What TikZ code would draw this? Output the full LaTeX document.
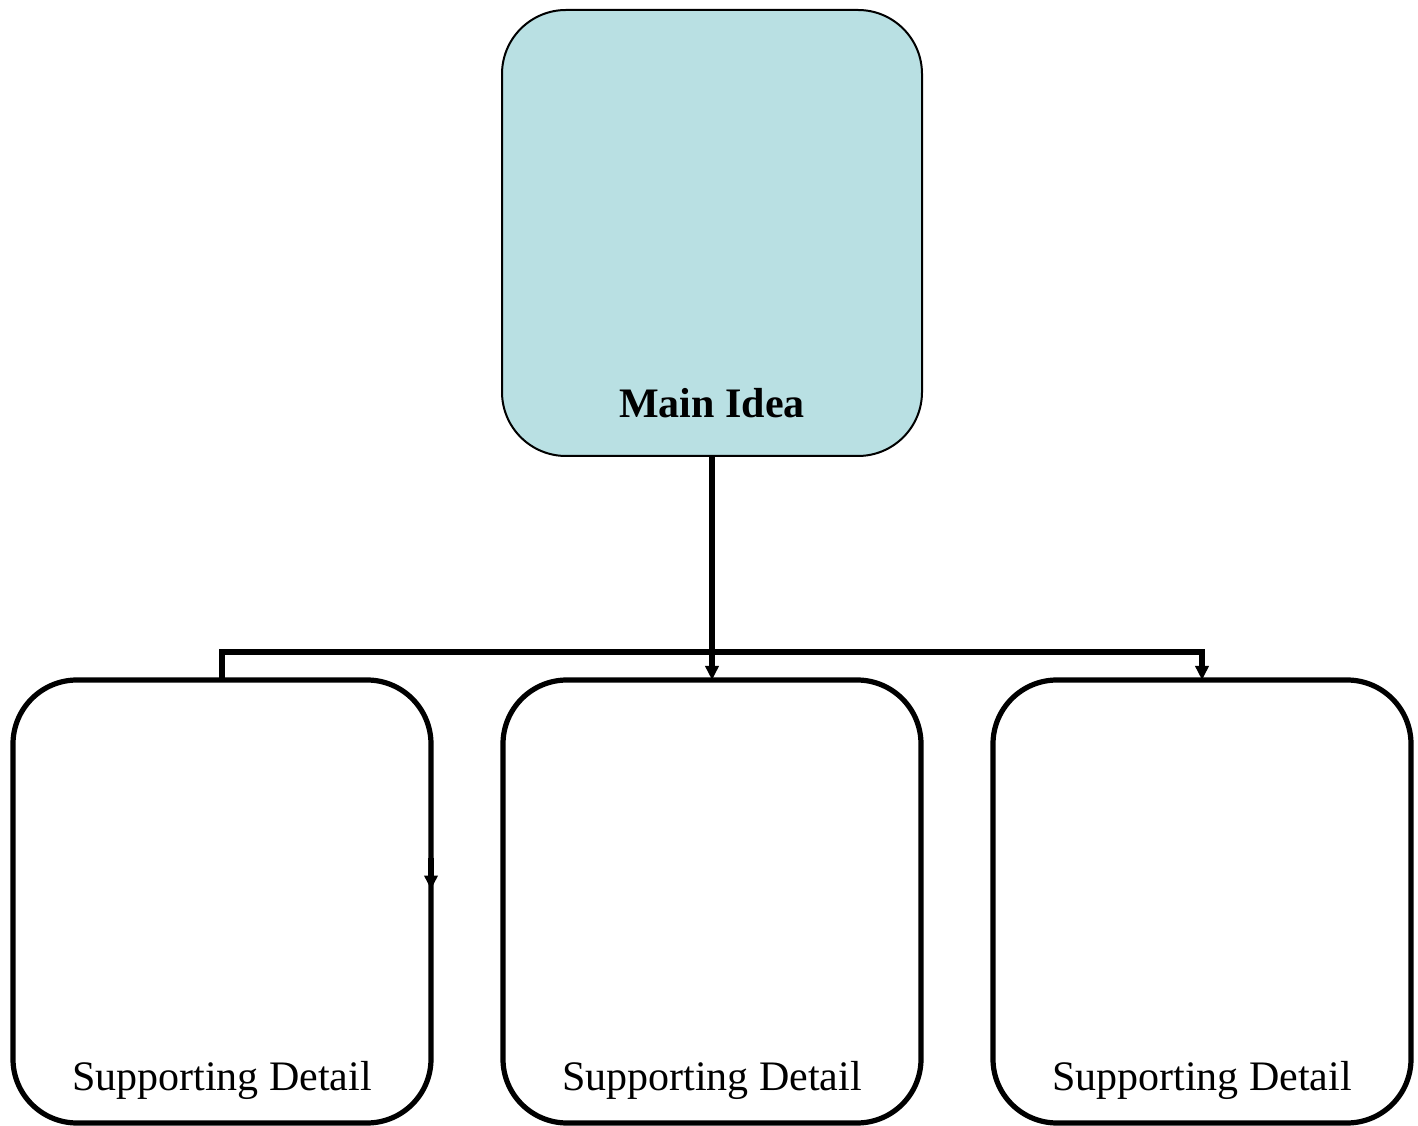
\documentclass[tikz,border=0pt]{standalone}
\usepackage{fontspec}
\setmainfont{Liberation Serif}
\usepackage{xcolor}
\usepackage{tikz}
\usetikzlibrary{positioning,calc,arrows.meta}

\definecolor{ideacyan}{RGB}{185,224,227}

\begin{document}
\begin{tikzpicture}[x=1pt, y=1pt,
    ideabox/.style={draw, line width=1pt, rounded corners=32pt, fill=ideacyan,
      minimum width=210pt, minimum height=223pt, inner sep=0pt, outer sep=0pt},
    detailbox/.style={draw, line width=2.6pt, rounded corners=32pt,
      minimum width=209pt, minimum height=221.5pt, inner sep=0pt, outer sep=0pt},
    link/.style={line width=2.8pt},
    tip/.style={-{Triangle[length=7pt, width=6.5pt]}}]
  \useasboundingbox (0, 0) rectangle (709, 562.5);

  % Main idea
  \node[ideabox] (main) at (356, 446) {};
  \node[anchor=base, font=\fontsize{21}{25}\selectfont\bfseries] (mainlbl)
    at ($(main.south)+(0, 19)$) {Main Idea};

  % Supporting details
  \node[detailbox] (detB) at (356, 111.75) {};
  \node[detailbox, left=36pt of detB] (detA) {};
  \node[detailbox, right=36pt of detB] (detC) {};
  \foreach \b in {detA, detB, detC}
    \node[anchor=base, font=\fontsize{21}{25}\selectfont] (\b lbl)
      at ($(\b.south)+(0, 16.5)$) {Supporting Detail};

  % Connectors
  \coordinate (bar) at ($(main.south)!0.875!(detB.north)$);
  \draw[link, tip] (main.south) -- (detB.north);
  \draw[link, tip] (detA.north) -- (detA.north |- bar) -- (detC.north |- bar) -- (detC.north);
  \draw[link, tip] ($(detA.east)+(0, 22)$) -- ($(detA.east)+(0, 6)$);
\end{tikzpicture}
\end{document}
